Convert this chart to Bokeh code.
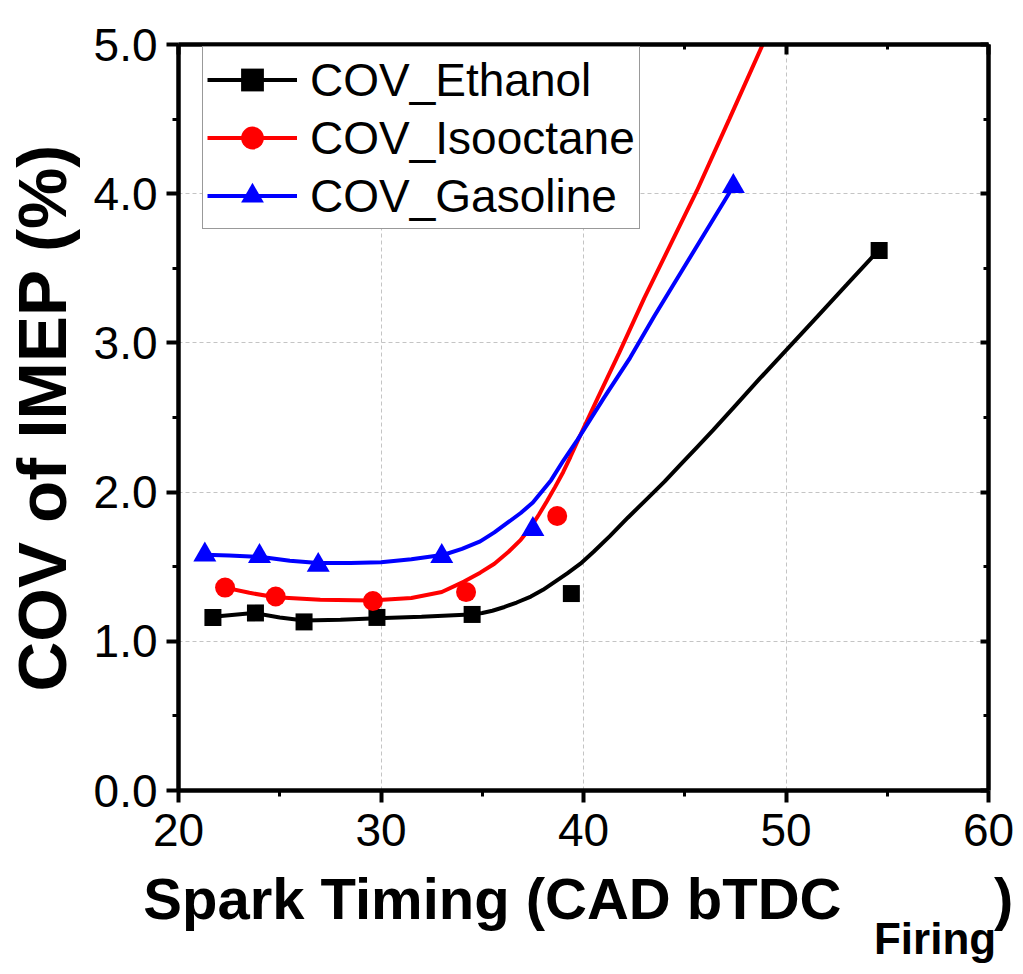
from bokeh.plotting import figure
from bokeh.models import (Range1d, LinearAxis, SingleIntervalTicker, FixedTicker,
                          Legend, LegendItem, PrintfTickFormatter)
from bokeh.embed import file_html
from bokeh.resources import INLINE

# ---------------- data ----------------
eth_x = [21.7, 23.8, 26.2, 29.8, 34.5, 39.4, 54.6]
eth_y = [1.16, 1.19, 1.13, 1.16, 1.18, 1.32, 3.62]
iso_x = [22.3, 24.8, 29.6, 34.2, 38.7]
iso_y = [1.36, 1.30, 1.27, 1.33, 1.84]
gas_x = [21.3, 24.0, 26.9, 33.0, 37.5, 47.4]
gas_y = [1.58, 1.57, 1.51, 1.57, 1.75, 4.05]

# fitted curves
eth_fit_x = [21.7, 23.7, 25.0, 26.2, 28.0, 29.8, 32.0, 34.4, 35.0, 35.5, 36.1, 36.7,
             37.4, 38.0, 38.6, 39.2, 39.85, 40.5, 41.3, 42.2, 43.1, 44.0, 44.8, 45.6,
             46.4, 47.5, 48.7, 50.0, 51.5, 53.0, 54.6]
eth_fit_y = [1.165, 1.19, 1.16, 1.14, 1.145, 1.155, 1.165, 1.18, 1.19, 1.205, 1.23, 1.26,
             1.30, 1.345, 1.40, 1.455, 1.52, 1.60, 1.705, 1.83, 1.95, 2.07, 2.185, 2.30,
             2.415, 2.58, 2.76, 2.95, 3.17, 3.39, 3.625]
iso_fit_x = [22.3, 23.5, 24.8, 27.0, 29.5, 31.5, 33.0, 34.1, 34.9, 35.6, 36.3, 36.9,
             37.4, 37.8, 38.2, 38.6, 39.0, 39.35, 39.7, 40.7, 41.75, 43.0, 44.3, 45.6,
             47.2, 48.85]
iso_fit_y = [1.36, 1.325, 1.295, 1.278, 1.273, 1.29, 1.33, 1.40, 1.46, 1.52, 1.60, 1.68,
             1.765, 1.85, 1.94, 2.035, 2.135, 2.235, 2.34, 2.63, 2.93, 3.30, 3.66, 4.02,
             4.50, 5.0]
gas_fit_x = [21.3, 22.5, 24.1, 25.5, 26.9, 28.5, 30.0, 31.5, 33.1, 34.0, 34.9, 35.6,
             36.3, 36.9, 37.5, 38.4, 39.0, 39.7, 41.0, 42.3, 43.5, 44.8, 46.1, 47.4]
gas_fit_y = [1.58, 1.575, 1.565, 1.54, 1.525, 1.525, 1.53, 1.55, 1.58, 1.62, 1.67, 1.73,
             1.80, 1.86, 1.93, 2.08, 2.21, 2.35, 2.63, 2.90, 3.18, 3.47, 3.76, 4.05]

series_names = ["COV_Ethanol", "COV_Isooctane", "COV_Gasoline"]
y_title = "COV of IMEP (%)"
x_title_main = "Spark Timing (CAD bTDC"
x_title_close = "\u00a0\u00a0)"
x_title_sub = "Firing"

FONT = "Liberation Sans"

p = figure(frame_width=810, frame_height=746,
           x_range=Range1d(20, 60), y_range=Range1d(0, 5),
           output_backend="svg", toolbar_location=None,
           min_border_left=178, min_border_right=30,
           min_border_top=44, min_border_bottom=150)
p.outline_line_color = None
p.background_fill_color = "white"
p.border_fill_color = "white"

xt = SingleIntervalTicker(interval=10, num_minor_ticks=2)
yt = SingleIntervalTicker(interval=1, num_minor_ticks=2)

for ax in p.xaxis:
    ax.ticker = xt
    ax.major_label_text_font = FONT
    ax.major_label_text_font_size = "46px"
    ax.major_label_standoff = 11
for ax in p.yaxis:
    ax.ticker = yt
    ax.formatter = PrintfTickFormatter(format="%.1f")
    ax.major_label_text_font = FONT
    ax.major_label_text_font_size = "46px"
    ax.major_label_standoff = 9
    ax.axis_label = y_title
    ax.axis_label_text_font = FONT
    ax.axis_label_text_font_size = "69px"
    ax.axis_label_text_font_style = "bold"
    ax.axis_label_standoff = 10

for ax in list(p.xaxis) + list(p.yaxis):
    ax.axis_line_width = 4.5
    ax.major_tick_line_width = 4
    ax.minor_tick_line_width = 3
    ax.major_tick_out = 12
    ax.major_tick_in = 0
    ax.minor_tick_out = 6
    ax.minor_tick_in = 0
    ax.major_label_text_color = "black"
    ax.axis_label_text_color = "black"

top_ax = LinearAxis(ticker=xt, major_label_text_color=None,
                    major_label_text_font_size="1px",
                    axis_line_width=4.5, major_tick_line_width=4,
                    minor_tick_line_width=3, major_tick_in=10, major_tick_out=0,
                    minor_tick_in=5, minor_tick_out=0, major_label_standoff=0)
right_ax = LinearAxis(ticker=yt, major_label_text_color=None,
                      major_label_text_font_size="1px",
                      axis_line_width=4.5, major_tick_line_width=4,
                      minor_tick_line_width=3, major_tick_in=8, major_tick_out=0,
                      minor_tick_in=5, minor_tick_out=0, major_label_standoff=0)
p.add_layout(top_ax, "above")
p.add_layout(right_ax, "right")

# x-axis title, drawn as labels of two extra (line-less) axes below
title_ax = LinearAxis(ticker=FixedTicker(ticks=[35.5, 59.95]),
                      major_label_overrides={35.5: x_title_main, 59.95: x_title_close},
                      axis_line_color=None, major_tick_line_color=None,
                      minor_tick_line_color=None, major_tick_out=0, major_tick_in=0,
                      minor_tick_out=0, minor_tick_in=0,
                      major_label_text_font=FONT, major_label_text_font_size="58px",
                      major_label_text_font_style="bold",
                      major_label_text_color="black", major_label_standoff=17)
sub_ax = LinearAxis(ticker=FixedTicker(ticks=[57.36]),
                    major_label_overrides={57.36: x_title_sub},
                    axis_line_color=None, major_tick_line_color=None,
                    minor_tick_line_color=None, major_tick_out=0, major_tick_in=0,
                    minor_tick_out=0, minor_tick_in=0,
                    major_label_text_font=FONT, major_label_text_font_size="44px",
                    major_label_text_font_style="bold",
                    major_label_text_color="black", major_label_standoff=-20)
p.add_layout(title_ax, "below")
p.add_layout(sub_ax, "below")

p.xgrid.ticker = xt
p.ygrid.ticker = yt
for g in (p.xgrid, p.ygrid):
    g.grid_line_color = "#c4c4c4"
    g.grid_line_dash = "4 3"
    g.grid_line_width = 1

# curves
l_eth = p.line(eth_fit_x, eth_fit_y, line_color="black", line_width=4)
l_iso = p.line(iso_fit_x, iso_fit_y, line_color="#ff0000", line_width=4)
l_gas = p.line(gas_fit_x, gas_fit_y, line_color="#0000ff", line_width=4)

# markers
m_eth = p.scatter(eth_x, eth_y, marker="square", size=17, fill_color="black",
                  line_color="black", line_width=0)
m_iso = p.scatter(iso_x, iso_y, marker="circle", size=20, fill_color="#ff0000",
                  line_color="#ff0000", line_width=0)
m_gas = p.scatter(gas_x, gas_y, marker="triangle", size=23, fill_color="#0000ff",
                  line_color="#0000ff", line_width=0)

legend = Legend(items=[
    LegendItem(label=series_names[0], renderers=[l_eth, m_eth]),
    LegendItem(label=series_names[1], renderers=[l_iso, m_iso]),
    LegendItem(label=series_names[2], renderers=[l_gas, m_gas]),
], location=(24, 561))
legend.label_text_font = FONT
legend.label_text_font_size = "46px"
legend.label_text_color = "black"
legend.glyph_width = 90
legend.glyph_height = 57
legend.label_height = 57
legend.label_standoff = 13
legend.spacing = 1
legend.padding = 4
legend.margin = 0
legend.border_line_color = "#333333"
legend.border_line_width = 1.5
legend.background_fill_alpha = 1
p.add_layout(legend, "center")

open("out.html", "w").write(file_html(p, INLINE))
